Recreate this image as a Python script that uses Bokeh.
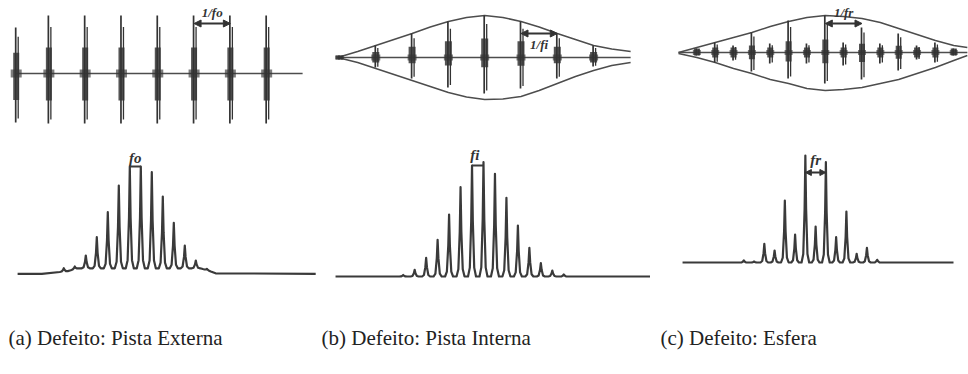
import numpy as np
from bokeh.plotting import figure
from bokeh.layouts import column, row
from bokeh.models import Range1d, Arrow, NormalHead
from bokeh.core.properties import value
from bokeh.embed import file_html
from bokeh.resources import INLINE

# ---------------------------------------------------------------- data
# (a) outer-race defect: impulse times (units of 1/fo) and amplitudes (a.u.)
t_a = [0.0, 0.9, 1.9, 2.9, 3.9, 4.9, 5.9, 6.9]
up_a = [46, 58, 58, 58, 58, 58, 58, 58]
dn_a = [49, 50, 50, 50, 50, 50, 50, 50]
span_a = [-0.02, 7.89]

# (b) inner-race defect: impulse times (units of 1/fi), amplitudes and load envelope
t_b = [0, 1, 2, 3, 4, 5, 6, 7]
up_b = [2, 12, 24, 36, 42, 36, 24, 12]
dn_b = [2, 10, 21, 30, 36, 31, 21, 9]
env_t_b = [-0.05, 0.5, 1, 1.5, 2, 2.5, 3, 3.5, 4, 4.5, 5, 5.5, 6, 6.5, 7, 7.5, 8.02]
env_up_b = [0, 6, 12, 18, 24, 30.5, 36, 40, 42, 40, 36, 30.5, 24, 18, 12, 8.5, 6]
env_dn_b = [0, 5, 11, 17, 23, 29, 35, 39.5, 42, 41.5, 39, 33, 26, 19, 13, 8, 5]

# (c) rolling-element defect: impulse times (units of 1/fr), amplitudes and envelope
t_c = [0.5, 1, 1.5, 2, 2.5, 3, 3.5, 4, 4.5, 5, 5.5, 6, 6.5, 7, 7.5]
up_c = [4, 10, 7, 20, 9, 32, 9, 37, 10, 25, 9, 19, 7, 10, 4]
dn_c = [3, 10, 8, 19, 11, 26, 11, 31, 13, 27, 11, 18, 7, 10, 3]
env_t_c = [0, 0.5, 1, 1.5, 2, 2.5, 3, 3.5, 4, 4.5, 5, 5.5, 6, 6.5, 7, 7.5, 7.87]
env_up_c = [0, 5, 10, 15, 20, 26, 31, 35, 37, 36, 34, 30, 24, 18, 12, 7, 5]
env_dn_c = [1, 5, 10, 16, 21, 27, 31, 36, 38, 37, 35, 31, 27, 21, 15, 8, 3]

# spectra: harmonic order and peak magnitude (a.u.)
f_a = list(range(14))
mag_a = [5.6, 7.3, 18.3, 36.6, 61.6, 88.3, 107.3, 107.3, 101.6, 77.3, 51, 28.3, 13.3, 5]
floor_f_a = [-4.2, -2.0, 0.3, 1.3, 12.4, 13.2, 13.8, 22.9]
floor_a = [0, 0, 2.5, 5.5, 5.5, 3, 0.5, 0]

f_b = list(range(15))
mag_b = [1.5, 6.7, 18.7, 36.7, 62, 89.3, 111, 114.3, 102.7, 78.7, 51, 28.7, 13.3, 6, 2]
floor_f_b = [-5.9, 21.6]
floor_b = [0, 0]

f_c = list(range(14))
mag_c = [2, 1, 18.7, 12, 62, 28, 107, 36, 100.3, 25.3, 51, 8.7, 14.7, 2.7]
floor_f_c = [-5.97, 20.44]
floor_c = [0, 0]

captions = ["(a) Defeito: Pista Externa", "(b) Defeito: Pista Interna", "(c) Defeito: Esfera"]

# ---------------------------------------------------------------- style
INK = "#333333"
THIN = "#4d4d4d"
SERIF = "Liberation Serif"


def make_fig(w, h, xr, yr):
    p = figure(width=w, height=h, x_range=xr, y_range=yr, toolbar_location=None,
               output_backend="svg", min_border=0, x_axis_type=None, y_axis_type=None)
    p.outline_line_color = None
    p.background_fill_color = "white"
    p.border_fill_color = "white"
    return p


def time_fig(w, x0, pxu, yb, h=140):
    return make_fig(w, h, Range1d(-x0 / pxu, (w - x0) / pxu), Range1d(-(h - yb), yb))


def draw_bursts(p, t, up, dn, pxu, cu_frac, cd_frac, core_w, blob_w, blob_h):
    t = np.asarray(t, float)
    up = np.asarray(up, float)
    dn = np.asarray(dn, float)
    px = 1.0 / pxu
    # thick middle of each decaying burst
    cu = np.maximum(cu_frac * up, np.minimum(up, 5))
    cd = np.maximum(cd_frac * dn, np.minimum(dn, 5))
    p.quad(left=t - core_w / 2 * px, right=t + core_w / 2 * px, top=cu, bottom=-cd,
           fill_color="#363636", fill_alpha=0.85, line_color=None)
    # small ringing at the baseline
    p.quad(left=t - blob_w / 2 * px, right=t + blob_w / 2 * px,
           top=np.minimum(up, blob_h), bottom=-np.minimum(dn, blob_h),
           fill_color="#363636", fill_alpha=0.65, line_color=None)
    # the spikes themselves
    p.segment(t - 0.5 * px, up, t - 0.5 * px, -dn, line_color=INK, line_width=1.7)
    p.segment(t + 2.0 * px, 0.8 * up, t + 2.0 * px, -0.92 * dn, line_color=INK, line_width=1.3)


def label(p, x, y, txt, size="13px", baseline="middle"):
    p.text(x=[x], y=[y], text=[txt], text_font=value(SERIF), text_font_style="bold italic",
           text_font_size=size, text_align="center", text_baseline=baseline, text_color=INK)


def double_arrow(p, x0, x1, y, size=7):
    p.add_layout(Arrow(start=NormalHead(size=size, fill_color=INK, line_color=INK),
                       end=NormalHead(size=size, fill_color=INK, line_color=INK),
                       x_start=x0, y_start=y, x_end=x1, y_end=y,
                       line_color=INK, line_width=2))


def spectrum_path(f, mag, w, fl_f, fl_v):
    prof_x = [-1, -0.55, -0.2, 0, 0.2, 0.55, 1]
    prof_y = [0, 0.08, 0.5, 1, 0.5, 0.08, 0]
    pts = []
    for fk, hk in zip(f, mag):
        for dx, dy in zip(prof_x, prof_y):
            x = fk + dx * w
            base = float(np.interp(x, fl_f, fl_v))
            pts.append((x, base + dy * (hk - base)))
    for hx, hy in zip(fl_f, fl_v):
        if all(abs(hx - fk) > w for fk in f):
            pts.append((hx, hy))
    pts.sort()
    return [q[0] for q in pts], [q[1] for q in pts]


def spec_fig(w, x0, pxf, yb, h=150):
    return make_fig(w, h, Range1d(-x0 / pxf, (w - x0) / pxf), Range1d(-(h - yb), yb))


# ---------------------------------------------------------------- time-domain row
PXU_A, PXU_B, PXU_C = 36.3, 36.3, 36.7

ta = time_fig(320, 15.7, PXU_A, 73)
ta.line(span_a, [0, 0], line_color=THIN, line_width=1.6)
draw_bursts(ta, t_a, up_a, dn_a, PXU_A, 0.45, 0.54, 6, 11, 4)
double_arrow(ta, t_a[5], t_a[6], 50)
label(ta, (t_a[5] + t_a[6]) / 2, 61, "1/fo")

tb = time_fig(330, 19, PXU_B, 57)
tb.line([env_t_b[0], env_t_b[-1]], [0, 0], line_color=THIN, line_width=1.6)
tb.line(env_t_b, env_up_b, line_color=THIN, line_width=1.5)
tb.line(env_t_b, [-v for v in env_dn_b], line_color=THIN, line_width=1.5)
draw_bursts(tb, t_b, up_b, dn_b, PXU_B, 0.45, 0.27, 7, 9, 3)
double_arrow(tb, t_b[5], t_b[6], 24)
label(tb, (t_b[5] + t_b[6]) / 2, 13, "1/fi")

tc = time_fig(318, 28, PXU_C, 52)
tc.line([env_t_c[0], env_t_c[-1]], [0, 0], line_color=THIN, line_width=1.6)
tc.line(env_t_c, env_up_c, line_color=THIN, line_width=1.5)
tc.line(env_t_c, [-v for v in env_dn_c], line_color=THIN, line_width=1.5)
draw_bursts(tc, t_c, up_c, dn_c, PXU_C, 0.35, 0.35, 6, 8, 2.5)
double_arrow(tc, t_c[7], t_c[9], 29)
label(tc, (t_c[7] + t_c[9]) / 2, 40, "1/fr")

# ---------------------------------------------------------------- spectrum row
PXF_A, PXF_B, PXF_C = 11.0, 11.47, 10.26
SPEC = "#3a3a3a"

sa = spec_fig(320, 63.3, PXF_A, 133.3)
xs, ys = spectrum_path(f_a, mag_a, 4.0 / PXF_A, floor_f_a, floor_a)
sa.line(xs, ys, line_color=SPEC, line_width=2.2, line_join="round")
sa.line([f_a[6], f_a[7]], [mag_a[6], mag_a[6]], line_color=SPEC, line_width=2)
label(sa, (f_a[6] + f_a[7]) / 2, mag_a[6] + 1, "fo", size="15px", baseline="bottom")

sb = spec_fig(330, 82.7, PXF_B, 136)
xs, ys = spectrum_path(f_b, mag_b, 4.0 / PXF_B, floor_f_b, floor_b)
sb.line(xs, ys, line_color=SPEC, line_width=2.2, line_join="round")
sb.line([f_b[6], f_b[7]], [mag_b[6], mag_b[6]], line_color=SPEC, line_width=2)
label(sb, (f_b[6] + f_b[7]) / 2 - 0.25, mag_b[6] + 3, "fi", size="15px", baseline="bottom")

sc = spec_fig(318, 93.3, PXF_C, 122)
xs, ys = spectrum_path(f_c, mag_c, 3.8 / PXF_C, floor_f_c, floor_c)
sc.line(xs, ys, line_color=SPEC, line_width=2.2, line_join="round")
double_arrow(sc, f_c[6], f_c[8], 90, size=6)
label(sc, (f_c[6] + f_c[8]) / 2, 95, "fr", size="15px", baseline="bottom")

# ---------------------------------------------------------------- captions
cap = make_fig(968, 84, Range1d(0, 968), Range1d(0, 84))
cap.text(x=[8, 321, 660], y=[37, 37, 37], text=captions, text_font=value(SERIF),
         text_font_size="21px", text_align="left", text_baseline="alphabetic",
         text_color="#222222")

layout = column(row(ta, tb, tc), row(sa, sb, sc), cap)

with open("out.html", "w") as fh:
    fh.write(file_html(layout, INLINE))
